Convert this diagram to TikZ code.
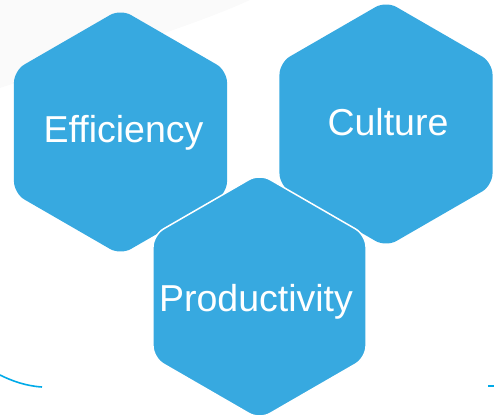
\documentclass[tikz,border=0pt]{standalone}
\usepackage{fontspec}
\setmainfont{Liberation Sans}
\usetikzlibrary{shapes.geometric}
\definecolor{hexblue}{RGB}{55,169,224}
\definecolor{lineblue}{RGB}{0,170,232}
\definecolor{smudge}{RGB}{250,250,250}
\tikzset{
  hexa/.style={regular polygon, regular polygon sides=6, shape border rotate=30,
    minimum size=246pt, inner sep=0pt, fill=hexblue, rounded corners=12pt},
  hexlabel/.style={text=white, font=\fontsize{37.5}{42}\selectfont, inner sep=0pt},
  arcline/.style={draw=lineblue, line width=1.6pt}
}
\begin{document}
\begin{tikzpicture}[x=1pt,y=1pt]
\useasboundingbox (0,0) rectangle (494,418);
% faint background smudge
\fill[smudge] (0,418) -- (250,418) .. controls (200,395) and (120,370) .. (0,330) -- cycle;
% hexagons
\node[hexa] (eff) at (120.5,286) {};
\node[hexa] (cul) at (386,294) {};
\node[hexa, draw=white, line width=1.5pt] (pro) at (259.5,121.5) {};
% labels
\node[hexlabel] (efft) at (123.5,285) {Efficiency};
\node[hexlabel] (cult) at (388,296) {Culture};
\node[hexlabel] (prot) at (256,116) {Productivity};
% bottom blue lines
\coordinate (la) at (0,43);
\coordinate (lb) at (42,31);
\coordinate (ra) at (488,32);
\coordinate (rb) at (494,32);
\draw[arcline] (la) .. controls (12,37) and (26,32) .. (lb);
\draw[arcline] (ra) -- (rb);
\end{tikzpicture}
\end{document}
